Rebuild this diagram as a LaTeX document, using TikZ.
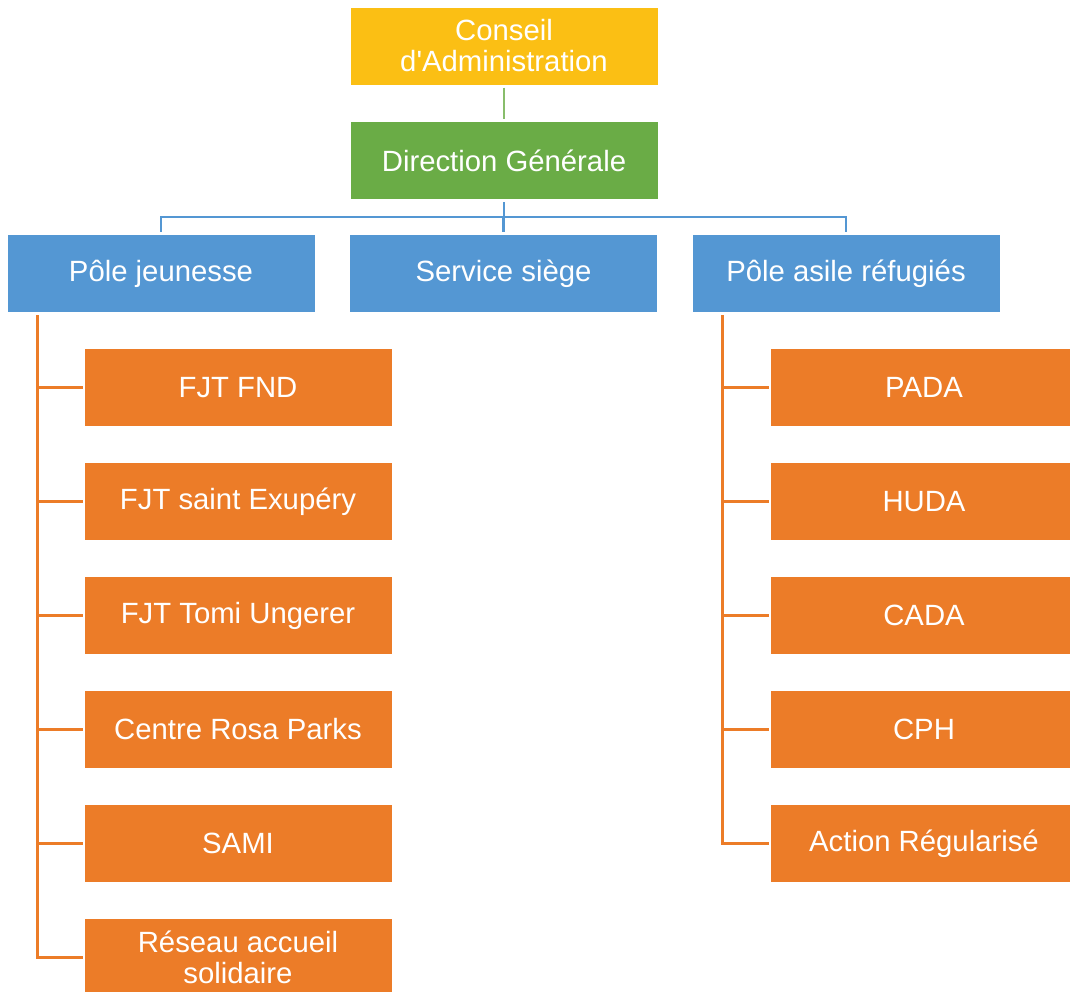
\documentclass[tikz,border=0pt]{standalone}
\usepackage{fontspec}
\setmainfont{Liberation Sans}
\usepackage{tikz}
\usetikzlibrary{positioning}
\definecolor{caYellow}{HTML}{FBBF14}
\definecolor{dgGreen}{HTML}{6AAC46}
\definecolor{poleBlue}{HTML}{5497D3}
\definecolor{unitOrange}{HTML}{EC7C28}

\tikzset{
  box/.style={minimum width=307pt, minimum height=77pt, inner sep=2pt, outer sep=0pt,
    align=center, text=white, font=\fontsize{29.3}{31}\selectfont},
  cabox/.style={box, fill=caYellow},
  dgbox/.style={box, fill=dgGreen},
  polebox/.style={box, fill=poleBlue},
  unitbox/.style={box, fill=unitOrange},
  link/.style={line width=2.5pt}
}

\begin{document}
\begin{tikzpicture}[x=1pt, y=-1pt, node distance=37pt]
      \useasboundingbox (0,0) rectangle (1070,991);
      \fill[white] (0,0) rectangle (1070,991);
      \clip (0,0) rectangle (1070,991);
      \node[cabox] (ca) at (504,46) {Conseil\\d\textquotesingle Administration};
      \node[dgbox] (dg) at (504,160.5) {Direction Générale};
      \node[polebox] (pj) at (161,273.5) {Pôle jeunesse};
      \node[polebox] (ss) at (503.5,273.5) {Service siège};
      \node[polebox] (pa) at (846,273.5) {Pôle asile réfugiés};
      \node[unitbox] (j1) at (238,387.5) {FJT FND};
      \node[unitbox, below=of j1] (j2) {FJT saint Exupéry};
      \node[unitbox, below=of j2] (j3) {FJT Tomi Ungerer};
      \node[unitbox, below=of j3] (j4) {Centre Rosa Parks};
      \node[unitbox, below=of j4] (j5) {SAMI};
      \node[unitbox, below=of j5] (j6) {Réseau accueil\\solidaire};
      \node[unitbox] (a1) at (924,387.5) {PADA};
      \node[unitbox, below=of a1] (a2) {HUDA};
      \node[unitbox, below=of a2] (a3) {CADA};
      \node[unitbox, below=of a3] (a4) {CPH};
      \node[unitbox, below=of a4] (a5) {Action Régularisé};
      \draw[link, dgGreen!80!white] ([yshift=-3pt]ca.south) -- ([yshift=3pt]dg.north);
      \coordinate (hub) at ([yshift=-18pt]dg.south);
      \draw[link, poleBlue] ([yshift=-3pt]dg.south) -- (hub);
      \foreach \p in {pj, ss, pa}
        \draw[link, poleBlue] (hub) -| ([yshift=3pt]\p.north);
      \coordinate (jspine) at ([xshift=30pt, yshift=-3pt]pj.south west);
      \foreach \u in {j1, j2, j3, j4, j5, j6}
        \draw[link, unitOrange] (jspine) |- ([xshift=-2pt]\u.west);
      \coordinate (aspine) at ([xshift=30pt, yshift=-3pt]pa.south west);
      \foreach \u in {a1, a2, a3, a4, a5}
        \draw[link, unitOrange] (aspine) |- ([xshift=-2pt]\u.west);
\end{tikzpicture}
\end{document}
